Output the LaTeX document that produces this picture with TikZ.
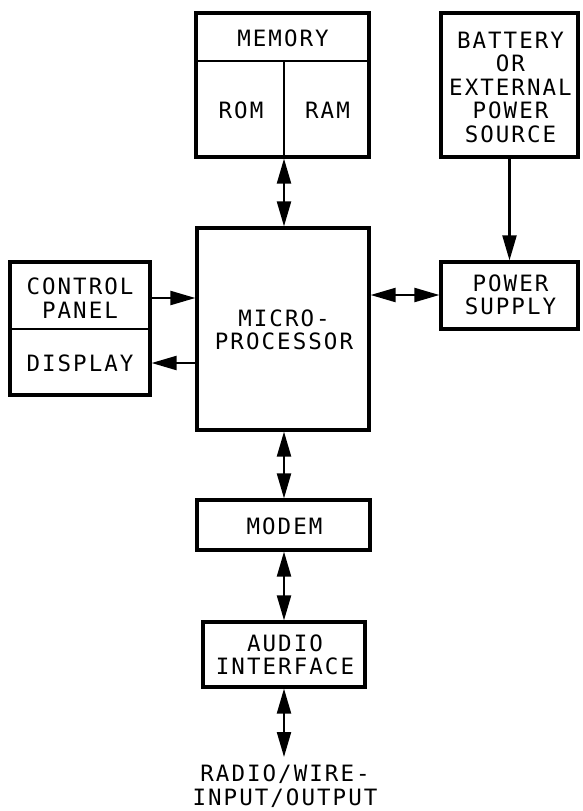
\documentclass[tikz,border=0pt]{standalone}
\usepackage{fontspec}
\setmainfont[LetterSpace=9]{DejaVu Sans Mono}
\usetikzlibrary{arrows.meta}
\begin{document}
\begin{tikzpicture}[x=1pt,y=-1pt,
  box/.style={draw, line width=3.2pt, inner sep=0pt},
  lbl/.style={font=\fontsize{22.5}{23.5}\selectfont, align=center, inner sep=0pt},
  conn/.style={line width=2.2pt},
  arr/.style={conn, -{Triangle[length=25pt,width=14pt]}},
  dbl/.style={conn, {Triangle[length=25pt,width=14pt]}-{Triangle[length=25pt,width=14pt]}},
  divline/.style={line width=2pt}]
\useasboundingbox (0,0) rectangle (582,811);
% boxes
\node[box, minimum width=173pt, minimum height=144pt] (mem) at (282.5,85) {};
\node[box, minimum width=137pt, minimum height=144pt] (bat) at (509.5,85) {};
\node[box, minimum width=172pt, minimum height=202pt] (mp) at (283,329) {};
\node[box, minimum width=140pt, minimum height=133pt] (ctrl) at (80,328.5) {};
\node[box, minimum width=137pt, minimum height=67pt] (psu) at (509.5,295.5) {};
\node[box, minimum width=173pt, minimum height=50pt] (modem) at (283.5,525) {};
\node[box, minimum width=162pt, minimum height=65pt] (audio) at (284,654.5) {};
% helper coordinates
\coordinate (col) at (284,0);
\coordinate (memhdr) at (282.5,61);
\coordinate (ctrldiv) at (80,329);
\coordinate (endpt) at (284,757);
% dividers
\draw[divline] (mem.west |- memhdr) -- (mem.east |- memhdr);
\draw[divline] (memhdr -| col) -- (mem.south -| col);
\draw[divline] (ctrl.west |- ctrldiv) -- (ctrl.east |- ctrldiv);
% labels
\node[lbl] (memt) at (283,38) {MEMORY};
\node[lbl] (romt) at (241,110) {ROM};
\node[lbl] (ramt) at (327.5,110) {RAM};
\node[lbl] (batt) at (510.5,87) {BATTERY\\OR\\EXTERNAL\\POWER\\SOURCE};
\node[lbl] (mpt) at (284,330) {MICRO-\\PROCESSOR};
\node[lbl] (cpt) at (80,298) {CONTROL\\PANEL};
\node[lbl] (dispt) at (80,363) {DISPLAY};
\node[lbl] (pst) at (510.5,295) {POWER\\SUPPLY};
\node[lbl] (modemt) at (284.5,526) {MODEM};
\node[lbl] (audiot) at (285,655) {AUDIO\\INTERFACE};
\node[lbl] (radio) at (285,786) {RADIO/WIRE-\\INPUT/OUTPUT};
% connectors
\draw[dbl] (mem.south -| col) -- (mp.north -| col);
\draw[arr] (ctrl.east |- cpt) -- (mp.west |- cpt);
\draw[arr] (mp.west |- dispt) -- (ctrl.east |- dispt);
\draw[dbl] (mp.east |- pst) -- (psu.west |- pst);
\draw[arr] (bat.south) -- (psu.north);
\draw[dbl] (mp.south -| col) -- (modem.north -| col);
\draw[dbl] (modem.south -| col) -- (audio.north -| col);
\draw[dbl] (audio.south -| col) -- (endpt);
\end{tikzpicture}
\end{document}
